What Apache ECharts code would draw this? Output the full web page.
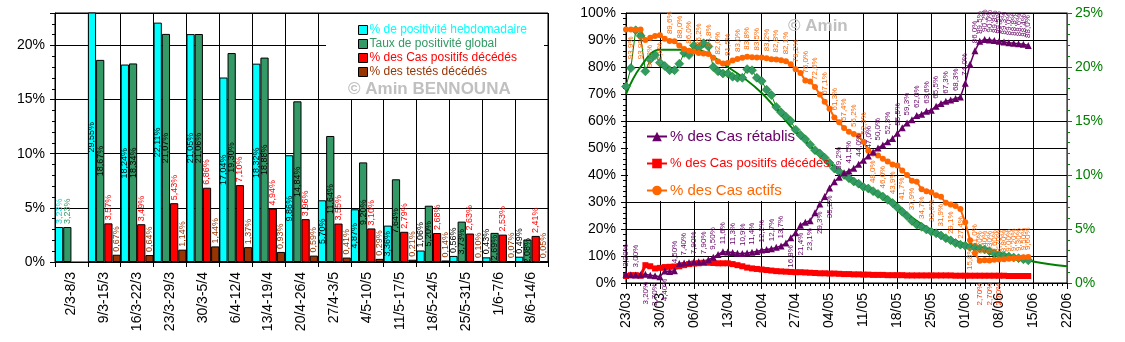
<!DOCTYPE html>
<html>
<head>
<meta charset="utf-8">
<title>Positivité et évolution des cas</title>
<script src="https://cdn.jsdelivr.net/npm/echarts@6/dist/echarts.min.js"></script>
<style>body{margin:0;background:#fff;}</style>
</head>
<body>
<div id="main" style="width:1125px;height:342px;"></div>
<script type="text/javascript">
// semaines (graphique de gauche)
var weeks = ['2/3-8/3', '9/3-15/3', '16/3-22/3', '23/3-29/3', '30/3-5/4', '6/4-12/4', '13/4-19/4',
  '20/4-26/4', '27/4-3/5', '4/5-10/5', '11/5-17/5', '18/5-24/5', '25/5-31/5', '1/6-7/6', '8/6-14/6'];
var positiviteHebdo = [3.23, 29.55, 18.24, 22.11, 21.05, 17.04, 18.32, 9.86, 5.70, 4.87, 3.36, 1.06, 0.56, 0.43, 0.49];
var tauxGlobal = [3.23, 18.67, 18.34, 21.07, 21.06, 19.30, 18.88, 14.84, 11.64, 9.20, 7.64, 5.20, 3.73, 2.69, 2.08];
var casDecedes = [null, 3.57, 3.49, 5.43, 6.86, 7.10, 4.94, 3.96, 3.55, 3.10, 2.79, 2.68, 2.63, 2.53, 2.41];
var testesDecedes = [null, 0.67, 0.64, 1.14, 1.44, 1.37, 0.93, 0.59, 0.41, 0.29, 0.21, 0.14, 0.10, 0.07, 0.05];

// jours depuis le 23/03 (graphique de droite)
var dateTicks = ['23/03', '30/03', '06/04', '13/04', '20/04', '27/04', '04/05', '11/05', '18/05', '25/05', '01/06', '08/06', '15/06', '22/06'];
var retablis = [3.2, 3.1, 3.0, 3.1, 3.2, 2.9, 2.7, 2.3, 4.4, 4.3, 4.5, 7.2, 7.4, 7.6, 7.9, 7.9, 7.9, 8.6, 9.5, 10.6,
  11.6, 11.5, 11.3, 11.0, 10.9, 11.1, 11.4, 11.7, 12.2, 12.4, 12.7, 13.2, 13.7, 14.8, 16.8, 18.6, 21.4, 22.5, 23.1, 26.0,
  29.3, 32.0, 35.2, 37.5, 39.2, 40.8, 41.5, 42.5, 44.0, 45.5, 47.0, 48.5, 50.0, 51.1, 52.3, 53.5, 55.5, 57.5, 59.3, 60.5,
  62.0, 62.5, 63.6, 64.0, 65.5, 66.5, 67.3, 67.8, 68.3, 68.9, 74.0, 81.0, 86.0, 89.5, 90.2, 90.0, 89.8, 89.5, 89.3, 89.0,
  88.8, 88.6, 88.4, 88.0];
var decedes = [2.6, 2.9, 2.9, 2.7, 6.6, 6.2, 5.4, 5.6, 5.9, 6.0, 6.1, 6.2, 6.6, 7.0, 7.2, 7.3, 7.5, 7.5, 7.4, 7.3,
  7.3, 7.3, 7.0, 6.6, 6.2, 5.7, 5.4, 5.2, 5.0, 4.8, 4.6, 4.4, 4.3, 4.2, 4.1, 4.0, 4.0, 3.9, 3.8, 3.7,
  3.6, 3.6, 3.5, 3.5, 3.4, 3.3, 3.3, 3.2, 3.2, 3.1, 3.1, 3.0, 3.0, 3.0, 2.9, 2.9, 2.9, 2.9, 2.8, 2.8,
  2.8, 2.8, 2.8, 2.8, 2.8, 2.8, 2.8, 2.8, 2.7, 2.7, 2.7, 2.7, 2.7, 2.7, 2.7, 2.7, 2.7, 2.7, 2.7, 2.6,
  2.6, 2.6, 2.6, 2.6];
var actifs = [93.9, 93.9, 93.8, 93.9, 90.0, 90.8, 91.5, 91.8, 90.5, 89.6, 89.5, 88.0, 86.7, 86.0, 85.7, 85.2, 85.0, 84.8, 83.4, 82.0,
  81.3, 81.5, 82.4, 83.0, 83.4, 83.8, 83.6, 83.5, 83.5, 83.2, 82.9, 82.8, 82.5, 82.1, 81.0, 79.2, 77.8, 75.0, 74.6, 72.6,
  69.8, 67.1, 64.5, 61.3, 59.5, 57.4, 56.0, 55.2, 54.5, 52.3, 49.0, 48.0, 47.2, 46.0, 45.0, 43.9, 43.5, 41.7, 40.0, 37.9,
  37.5, 34.7, 34.0, 33.6, 32.5, 31.9, 29.7, 29.1, 28.5, 27.4, 22.5, 15.8, 11.0, 8.2, 8.4, 8.3, 8.6, 8.7, 8.8, 9.0,
  9.2, 9.3, 9.5, 9.6];
// taux de positivité global journalier (axe de droite)
var positiviteJour = [18.2, 19.9, 23.4, 22.9, 19.6, 20.7, 21.1, 20.4, 20.1, 19.7, 19.7, 20.3, 21.3, 21.1, 22.0, 21.8, 22.2, 21.9, 20.0, 19.6,
  19.4, 19.4, 19.1, 19.0, 19.0, 19.8, 19.7, 19.0, 18.7, 17.9, 17.4, 16.3, 15.8, 15.4, 15.0, 14.2, 13.7, 13.3, 12.8, 12.3,
  12.0, 11.6, 11.1, 10.6, 10.3, 10.0, 9.7, 9.4, 9.2, 8.9, 8.75, 8.5, 8.25, 8.0, 7.7, 7.4, 7.0, 6.6, 6.2, 5.75,
  5.4, 5.2, 4.95, 4.75, 4.6, 4.4, 4.15, 3.95, 3.7, 3.55, 3.45, 3.35, 3.3, 3.2, 3.1, 2.95, 2.75, 2.6, 2.5, 2.45,
  2.35, 2.3, 2.2, 2.1];
var tendanceJours = [0, 3, 7, 14, 21, 28, 35, 42, 49, 56, 63, 70, 77, 84, 91];
var tendance = [17.5, 20.0, 21.6, 21.6, 20.0, 17.6, 14.0, 11.1, 9.0, 7.0, 4.9, 3.6, 2.8, 2.0, 1.55];

var FONT = 'Arial, "Liberation Sans", sans-serif';
var CYAN = '#00FFFF', VERT = '#339966', ROUGE = '#FF0000', BRUN = '#993300';
var VIOLET = '#660066', ORANGE = '#FF6600', VERT_FONCE = '#008000';

function pct2(v) { return v.toFixed(2).replace('.', ',') + '%'; }
function pct3(v) { return (v < 10 ? v.toFixed(2) : v.toFixed(1)).replace('.', ',') + '%'; }

var topLabel = { position: 'top', align: 'left', verticalAlign: 'middle' };
var midLabel = { position: 'inside', align: 'center', verticalAlign: 'middle' };

function barItems(arr, labelFor) {
  return arr.map(function (v, i) {
    if (v == null) return null;
    return { value: v, label: labelFor(v, i) };
  });
}

var cyanData = barItems(positiviteHebdo, function (v, i) {
  if (i === 0) return Object.assign({ color: '#00dddd' }, topLabel);
  if (v < 1.1) return Object.assign({ color: '#000' }, topLabel);
  return Object.assign({ color: '#000' }, midLabel);
});
var vertData = barItems(tauxGlobal, function (v, i) {
  if (i === 0) return Object.assign({ color: VERT }, topLabel);
  return Object.assign({ color: '#000' }, midLabel);
});
var rougeData = barItems(casDecedes, function () { return Object.assign({ color: ROUGE }, topLabel); });
var brunData = barItems(testesDecedes, function () { return Object.assign({ color: BRUN }, topLabel); });

function barSeries(name, color, data) {
  return {
    name: name, type: 'bar', xAxisIndex: 0, yAxisIndex: 0,
    barGap: '0%', barCategoryGap: '0%',
    itemStyle: { color: color, borderColor: '#000', borderWidth: 1 },
    label: { show: true, rotate: 90, fontSize: 9, fontFamily: FONT, distance: 3,
      formatter: function (p) { return pct2(p.value); } },
    data: data
  };
}

function lineItems(arr, posFor) {
  return arr.map(function (v, i) {
    var pos = posFor(i);
    var item = { value: [i, v] };
    if (pos === 'top') item.label = { show: true, position: 'top', align: 'left', verticalAlign: 'middle' };
    else if (pos === 'bottom') item.label = { show: true, position: 'bottom', align: 'right', verticalAlign: 'middle' };
    else item.label = { show: false };
    return item;
  });
}

var violetData = lineItems(retablis, function (i) {
  if (i < 72 && i % 2) return null;
  if ((i >= 4 && i <= 8) || (i >= 34 && i <= 43)) return 'bottom';
  return 'top';
});
var orangeData = lineItems(actifs, function (i) {
  if (i < 72 && i % 2 === 0) return null;
  if (i <= 8 || (i >= 51 && i <= 71)) return 'bottom';
  return 'top';
});
var rougeJourData = lineItems(decedes, function (i) {
  return (i >= 72 && i <= 78 && i % 2) ? 'bottom' : null;
});

function lineLabel(color) {
  return { rotate: 90, fontSize: 8, fontFamily: FONT, color: color, distance: 4,
    formatter: function (p) { return pct3(p.value[1]); } };
}

var chart = echarts.init(document.getElementById('main'));

var option = {
  backgroundColor: '#fff',
  animation: false,
  textStyle: { fontFamily: FONT },
  grid: [
    { left: 55, top: 13, width: 493, height: 249, show: true, borderColor: '#000', borderWidth: 1, outerBoundsMode: 'none' },
    { left: 626, top: 13, width: 441, height: 270, show: true, borderColor: '#000', borderWidth: 1, outerBoundsMode: 'none' }
  ],
  xAxis: [
    {
      type: 'category', gridIndex: 0, data: weeks,
      axisLine: { lineStyle: { color: '#000' } },
      axisTick: { show: true, length: 5, lineStyle: { color: '#000' } },
      axisLabel: { rotate: 90, interval: 0, margin: 10, color: '#000', fontSize: 14, fontFamily: FONT },
      splitLine: { show: true, lineStyle: { color: '#000', width: 1 } }
    },
    {
      type: 'value', gridIndex: 1, min: 0, max: 91, interval: 7,
      axisLine: { lineStyle: { color: '#000' } },
      axisTick: { show: true, length: 6, lineStyle: { color: '#000' } },
      minorTick: { show: true, splitNumber: 7, length: 3, lineStyle: { color: '#000' } },
      axisLabel: { rotate: 90, margin: 10, color: '#000', fontSize: 14, fontFamily: FONT,
        formatter: function (v) { return dateTicks[Math.round(v / 7)] || ''; } },
      splitLine: { show: true, lineStyle: { color: '#000', width: 1 } }
    }
  ],
  yAxis: [
    {
      type: 'value', gridIndex: 0, min: 0, max: 23, interval: 5,
      axisLine: { show: true, lineStyle: { color: '#000' } },
      axisTick: { show: true, length: 5, lineStyle: { color: '#000' } },
      minorTick: { show: true, splitNumber: 5, length: 3, lineStyle: { color: '#000' } },
      axisLabel: { color: '#000', fontSize: 14, fontFamily: FONT, margin: 10,
        formatter: function (v) { return v % 5 === 0 ? v + '%' : ''; } },
      splitLine: { show: true, lineStyle: { color: '#000', width: 1 } }
    },
    {
      type: 'value', gridIndex: 1, min: 0, max: 100, interval: 10,
      axisLine: { show: true, lineStyle: { color: '#000' } },
      axisTick: { show: true, length: 5, lineStyle: { color: '#000' } },
      minorTick: { show: true, splitNumber: 5, length: 3, lineStyle: { color: '#000' } },
      axisLabel: { color: '#000', fontSize: 14, fontFamily: FONT, margin: 10, formatter: '{value}%' },
      splitLine: { show: true, lineStyle: { color: '#000', width: 1 } }
    },
    {
      type: 'value', gridIndex: 1, position: 'right', min: 0, max: 25, interval: 5,
      axisLine: { show: true, lineStyle: { color: VERT_FONCE, width: 1 } },
      axisTick: { show: true, length: 5, lineStyle: { color: VERT_FONCE } },
      minorTick: { show: true, splitNumber: 5, length: 3, lineStyle: { color: VERT_FONCE } },
      axisLabel: { color: VERT_FONCE, fontSize: 14, fontFamily: FONT, margin: 8, formatter: '{value}%' },
      splitLine: { show: false }
    }
  ],
  legend: [
    {
      orient: 'vertical', left: 353, top: 19, itemWidth: 9, itemHeight: 9, itemGap: 2, icon: 'rect', z: 10,
      selectedMode: false,
      itemStyle: { borderColor: '#000', borderWidth: 1 },
      textStyle: { fontSize: 12, fontFamily: FONT, padding: [0, 0, 0, -3] },
      data: [
        { name: '% de positivité hebdomadaire', textStyle: { color: CYAN } },
        { name: 'Taux de positivité global', textStyle: { color: VERT } },
        { name: '% des Cas positifs décédés', textStyle: { color: ROUGE } },
        { name: '% des testés décédés', textStyle: { color: BRUN } }
      ]
    },
    {
      orient: 'vertical', left: 641, top: 124, itemWidth: 20, itemHeight: 12, itemGap: 13, z: 10,
      selectedMode: false,
      textStyle: { fontSize: 15, fontFamily: FONT, padding: [0, 0, 0, -2] },
      data: [
        { name: '% des Cas rétablis', textStyle: { color: VIOLET } },
        { name: '% des Cas positifs décédés ', textStyle: { color: ROUGE, fontSize: 13 } },
        { name: '% des Cas actifs', textStyle: { color: ORANGE } }
      ]
    }
  ],
  graphic: [
    { type: 'rect', shape: { x: 326, y: 14, width: 218, height: 85 }, style: { fill: '#fff' }, z: 1 },
    { type: 'rect', shape: { x: 628, y: 122, width: 207, height: 79 }, style: { fill: '#fff' }, z: 1 },
    { type: 'text', x: 348, y: 81, z: 11, style: { text: '© Amin BENNOUNA', fill: '#c0c0c0', font: 'bold 17px ' + FONT } },
    { type: 'text', x: 788, y: 18, z: 11, style: { text: '© Amin', fill: '#c0c0c0', font: 'bold 17px ' + FONT } }
  ],
  series: [
    barSeries('% de positivité hebdomadaire', CYAN, cyanData),
    barSeries('Taux de positivité global', VERT, vertData),
    barSeries('% des Cas positifs décédés', ROUGE, rougeData),
    barSeries('% des testés décédés', BRUN, brunData),
    {
      name: 'Positivité globale journalière', type: 'line', xAxisIndex: 1, yAxisIndex: 2,
      symbol: 'diamond', symbolSize: 9, showSymbol: true,
      itemStyle: { color: VERT, borderColor: VERT_FONCE, borderWidth: 0.5 },
      lineStyle: { color: VERT_FONCE, width: 1 },
      data: positiviteJour.map(function (v, i) { return [i, v]; })
    },
    {
      name: 'Tendance', type: 'line', xAxisIndex: 1, yAxisIndex: 2, smooth: 0.4,
      symbol: 'none', lineStyle: { color: VERT_FONCE, width: 2 },
      data: tendance.map(function (v, i) { return [tendanceJours[i], v]; })
    },
    {
      name: '% des Cas actifs', type: 'line', xAxisIndex: 1, yAxisIndex: 1,
      symbol: 'circle', symbolSize: 6,
      itemStyle: { color: ORANGE }, lineStyle: { color: ORANGE, width: 2 },
      label: lineLabel(ORANGE),
      data: orangeData
    },
    {
      name: '% des Cas positifs décédés ', type: 'line', xAxisIndex: 1, yAxisIndex: 1,
      symbol: 'rect', symbolSize: 6,
      itemStyle: { color: ROUGE }, lineStyle: { color: ROUGE, width: 3 },
      label: lineLabel('#ff3300'),
      data: rougeJourData
    },
    {
      name: '% des Cas rétablis', type: 'line', xAxisIndex: 1, yAxisIndex: 1,
      symbol: 'triangle', symbolSize: 7,
      itemStyle: { color: VIOLET }, lineStyle: { color: VIOLET, width: 1.5 },
      label: lineLabel(VIOLET),
      data: violetData
    }
  ]
};

chart.setOption(option);
</script>
</body>
</html>
